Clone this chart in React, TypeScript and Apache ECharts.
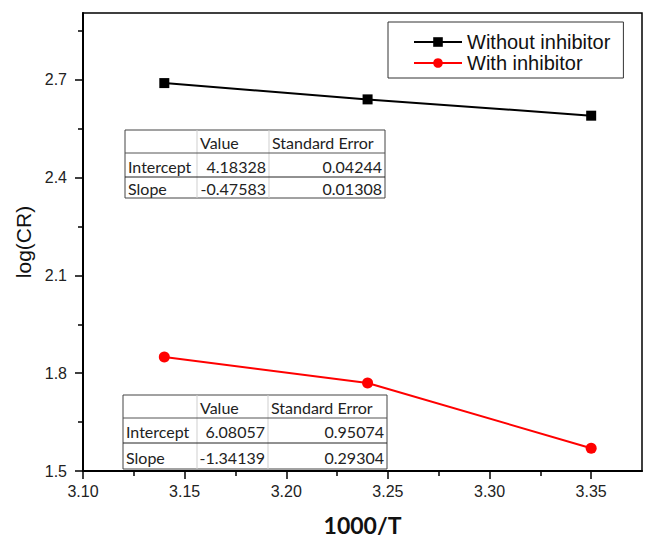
import React, { useEffect, useRef } from "react";
import * as echarts from "echarts";

const xValues = [3.14, 3.24, 3.35];
const withoutInhibitor = [2.69, 2.64, 2.59];
const withInhibitor = [1.85, 1.77, 1.57];
const seriesNames = ["Without inhibitor", "With inhibitor"];
const xTicks = [3.1, 3.15, 3.2, 3.25, 3.3, 3.35];
const xMinorTicks = [3.125, 3.175, 3.225, 3.275, 3.325];
const yTicks = [1.5, 1.8, 2.1, 2.4, 2.7];
const yMinorTicks = [1.65, 1.95, 2.25, 2.55, 2.85];
const tableHeader = ["", "Value", "Standard Error"];
const tableRowNames = ["Intercept", "Slope"];
const fitWithout = [
  ["4.18328", "0.04244"],
  ["-0.47583", "0.01308"],
];
const fitWith = [
  ["6.08057", "0.95074"],
  ["-1.34139", "0.29304"],
];

const TABLE_FONT = "16px Lato";

function makeTable(x: number, y: number, colW: number[], rowH: number[], values: string[][]) {
  const children: any[] = [];
  const totalW = colW.reduce((a, b) => a + b, 0);
  const totalH = rowH.reduce((a, b) => a + b, 0);
  children.push({
    type: "rect",
    shape: { x: 0, y: 0, width: totalW, height: totalH },
    style: { fill: "#fff", stroke: "#444", lineWidth: 1 },
  });
  let cx = 0;
  for (let c = 0; c < colW.length - 1; c++) {
    cx += colW[c];
    children.push({
      type: "line",
      shape: { x1: cx, y1: 0, x2: cx, y2: totalH },
      style: { stroke: "#cfcfcf", lineWidth: 1 },
    });
  }
  let ry = 0;
  for (let r = 0; r < rowH.length - 1; r++) {
    ry += rowH[r];
    children.push({
      type: "line",
      shape: { x1: 0, y1: ry, x2: totalW, y2: ry },
      style: { stroke: r === 0 ? "#555" : "#222", lineWidth: 1 },
    });
  }
  const colX = [0, colW[0], colW[0] + colW[1]];
  for (let c = 1; c < tableHeader.length; c++) {
    children.push({
      type: "text",
      style: {
        text: tableHeader[c],
        x: colX[c] + 3,
        y: rowH[0] / 2 + 1,
        font: TABLE_FONT,
        fill: "#222",
        textAlign: "left",
        textVerticalAlign: "middle",
      },
    });
  }
  let rowTop = rowH[0];
  for (let r = 0; r < tableRowNames.length; r++) {
    const cy = rowTop + rowH[r + 1] / 2 + 1;
    children.push({
      type: "text",
      style: {
        text: tableRowNames[r],
        x: 3,
        y: cy,
        font: TABLE_FONT,
        fill: "#222",
        textAlign: "left",
        textVerticalAlign: "middle",
      },
    });
    for (let c = 0; c < 2; c++) {
      children.push({
        type: "text",
        style: {
          text: values[r][c],
          x: colX[c + 1] + colW[c + 1] - 3,
          y: cy,
          font: TABLE_FONT,
          fill: "#222",
          textAlign: "right",
          textVerticalAlign: "middle",
        },
      });
    }
    rowTop += rowH[r + 1];
  }
  return { type: "group", x, y, z: 10, children };
}

export default function App() {
  const ref = useRef<HTMLDivElement>(null);
  useEffect(() => {
    if (!ref.current) return;
    const chart = echarts.init(ref.current, null, { renderer: "svg" });
    const labelStyle = { fontFamily: "Liberation Sans", fontSize: 16, color: "#222" };
    chart.setOption({
      animation: false,
      backgroundColor: "#fff",
      grid: {
        left: 83,
        right: 3,
        top: 13,
        bottom: 74,
        show: true,
        borderColor: "#000",
        borderWidth: 1.5,
      },
      legend: {
        orient: "vertical",
        left: 388,
        top: 22,
        padding: [10, 13, 5, 25],
        borderColor: "#333",
        borderWidth: 1,
        backgroundColor: "#fff",
        itemWidth: 48,
        itemHeight: 12,
        itemGap: 1,
        textStyle: { fontFamily: "Liberation Sans", fontSize: 20, color: "#111", lineHeight: 20 },
        data: seriesNames,
      },
      xAxis: [
        {
          type: "value",
          min: 3.1,
          max: 3.375,
          position: "bottom",
          name: "1000/T",
          nameLocation: "middle",
          nameGap: 42,
          nameTextStyle: { fontFamily: "Lato", fontWeight: "bold", fontSize: 23, color: "#111" },
          axisLine: { show: true, onZero: false, lineStyle: { color: "#000", width: 2 } },
          axisTick: { show: true, customValues: xTicks, length: 8, lineStyle: { color: "#000", width: 1.5 } },
          axisLabel: {
            customValues: xTicks,
            margin: 12,
            formatter: (v: number) => v.toFixed(2),
            ...labelStyle,
          },
          splitLine: { show: false },
        },
        {
          type: "value",
          min: 3.1,
          max: 3.375,
          position: "bottom",
          axisLine: { show: false, onZero: false },
          axisTick: { show: true, customValues: xMinorTicks, length: 5, lineStyle: { color: "#000", width: 1.5 } },
          axisLabel: { show: false },
          splitLine: { show: false },
        },
      ],
      yAxis: [
        {
          type: "value",
          min: 1.5,
          max: 2.905,
          position: "left",
          name: "log(CR)",
          nameLocation: "middle",
          nameGap: 45,
          nameTextStyle: { fontFamily: "Liberation Sans", fontSize: 21, color: "#111" },
          axisLine: { show: true, onZero: false, lineStyle: { color: "#000", width: 2 } },
          axisTick: { show: true, customValues: yTicks, length: 8, lineStyle: { color: "#000", width: 1.5 } },
          axisLabel: {
            customValues: yTicks,
            margin: 16,
            formatter: (v: number) => v.toFixed(1),
            ...labelStyle,
          },
          splitLine: { show: false },
        },
        {
          type: "value",
          min: 1.5,
          max: 2.905,
          position: "left",
          axisLine: { show: false, onZero: false },
          axisTick: { show: true, customValues: yMinorTicks, length: 5, lineStyle: { color: "#000", width: 1.5 } },
          axisLabel: { show: false },
          splitLine: { show: false },
        },
      ],
      series: [
        {
          name: seriesNames[0],
          type: "line",
          data: xValues.map((x, i) => [x, withoutInhibitor[i]]),
          symbol: "rect",
          symbolSize: 10,
          lineStyle: { color: "#000", width: 2 },
          itemStyle: { color: "#000" },
          z: 3,
        },
        {
          name: seriesNames[1],
          type: "line",
          data: xValues.map((x, i) => [x, withInhibitor[i]]),
          symbol: "circle",
          symbolSize: 11,
          lineStyle: { color: "#ff0000", width: 2 },
          itemStyle: { color: "#ff0000" },
          z: 3,
        },
      ],
      graphic: [
        makeTable(125, 130, [72, 72, 116], [23, 24, 21], fitWithout),
        makeTable(123, 395, [74, 71, 119], [23, 25, 26], fitWith),
      ],
    });
    return () => chart.dispose();
  }, []);
  return (
    <div
      ref={ref}
      style={{ position: "fixed", left: 0, top: 0, width: 645, height: 545, background: "#fff" }}
    />
  );
}
